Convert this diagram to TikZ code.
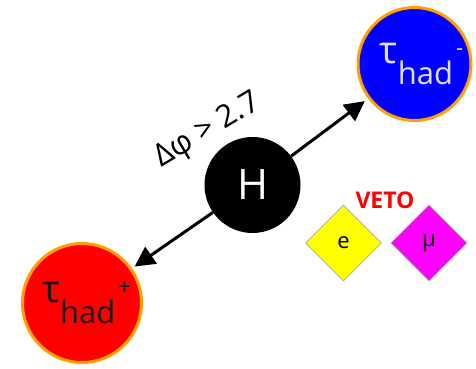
\documentclass[tikz,border=0pt]{standalone}
\usepackage{fontspec}
\setmainfont{Open Sans}
\usetikzlibrary{arrows.meta,shapes.geometric}
\definecolor{ringorange}{RGB}{255,160,0}
\definecolor{lightlav}{RGB}{225,225,255}
\definecolor{puremag}{RGB}{255,0,255}
\definecolor{pureyel}{RGB}{255,255,0}
\tikzset{
  tau/.style={circle,draw=ringorange,line width=3pt,inner sep=0pt},
  lep/.style={diamond,draw=gray!70,line width=0.8pt,minimum size=76pt,inner sep=0pt,aspect=1,font=\fontsize{22}{22}\selectfont},
  arr/.style={line width=3pt,-{Triangle[length=20pt,width=20pt]}}
}
\newcommand{\taulabel}[2]{\hspace{#2}{\fontsize{38}{38}\selectfont τ}\raisebox{-21pt}{\fontsize{31}{31}\selectfont had}\hspace{3pt}\raisebox{8pt}{\fontsize{22}{22}\selectfont #1}}
\begin{document}
\begin{tikzpicture}[x=1pt,y=-1pt]
\useasboundingbox (0,0) rectangle (476,369);
\node[tau,fill=blue,minimum size=113pt,text=lightlav] (taum) at (414.5,64) {\taulabel{-}{14pt}};
\node[tau,fill=red,minimum size=119pt,text=black!90] (taup) at (82,303) {\taulabel{+}{9pt}};
\node[circle,fill=black,minimum size=96pt,inner sep=0pt,text=white,font=\fontsize{42}{42}\selectfont] (H) at (252.5,185) {H};
\draw[arr,shorten >=4pt] (H) -- (taum);
\draw[arr,shorten >=3pt] (H) -- (taup);
\node[rotate=31,font=\fontsize{31}{31}\selectfont] (dphi) at (208,131) {Δφ > 2.7};
\node[text=red,font=\fontsize{23}{23}\selectfont\bfseries] (veto) at (385,200) {VETO};
\node[lep,fill=pureyel] (e) at (343.5,243) {e};
\node[lep,fill=puremag] (mu) at (429,243) {μ};
\end{tikzpicture}
\end{document}
